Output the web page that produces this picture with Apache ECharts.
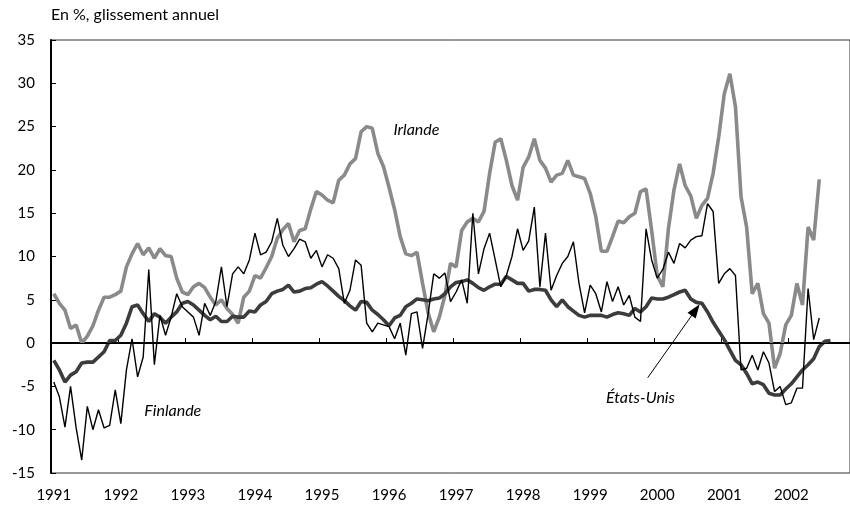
<!DOCTYPE html>
<html><head><meta charset="utf-8">
<script src="https://cdn.jsdelivr.net/npm/echarts@6/dist/echarts.min.js"></script>
<style>html,body{margin:0;padding:0;background:#fff}#c{width:850px;height:512px}</style>
</head><body><div id="c"></div>
<script>
// Monthly series, index 0 = January 1991
const yearLabels = ['1991','1992','1993','1994','1995','1996','1997','1998','1999','2000','2001','2002'];
const monthsShown = 143;           // axis runs from Jan 1991 past the right edge
const monthsPerYear = 12;

const irlande = [5.7,4.6,3.8,1.7,2.1,0.0,0.8,2.0,3.8,5.3,5.3,5.6,
6.0,8.8,10.3,11.5,10.2,11.0,9.8,10.9,10.1,10.0,7.5,5.9,
5.6,6.5,6.9,6.4,5.3,4.4,5.0,4.0,3.3,2.3,5.3,6.0,
7.8,7.5,8.7,10.0,12.1,13.1,13.8,11.7,13.0,13.2,15.5,17.5,
17.1,16.5,16.2,18.8,19.4,20.7,21.3,24.4,25.0,24.8,21.9,20.4,
18.0,15.4,12.3,10.3,10.1,10.5,6.9,3.5,1.3,3.0,5.5,9.2,
8.8,13.0,14.0,14.4,14.0,15.2,19.6,23.2,23.6,21.1,18.2,16.5,
20.3,21.5,23.6,21.1,20.2,18.6,19.4,19.6,21.1,19.4,19.2,19.0,
17.3,14.6,10.6,10.6,12.3,14.1,13.9,14.6,15.0,17.5,17.8,13.0,
7.8,6.5,13.2,17.7,20.7,18.2,17.0,14.4,15.9,16.7,19.6,23.8,
28.8,31.1,27.3,16.9,13.4,5.7,6.9,3.4,2.3,-2.9,-1.2,2.1,
3.2,6.9,4.4,13.4,11.9,18.9];

const finlande = [-4.5,-6.2,-9.7,-5.0,-9.8,-13.5,-7.3,-10.0,-7.7,-9.8,-9.5,-5.4,
-9.3,-3.1,0.5,-3.9,-1.6,8.5,-2.5,3.2,0.9,3.0,5.7,4.2,
3.6,3.0,0.9,4.6,3.2,4.8,8.8,4.2,8.0,8.8,8.0,9.6,
12.7,10.2,10.5,11.7,14.4,11.3,10.0,10.9,12.0,11.7,9.8,10.7,
8.8,10.2,9.8,8.6,4.6,6.1,9.6,9.0,2.3,1.3,2.3,2.1,
1.9,0.5,2.3,-1.4,3.4,3.6,-0.6,3.4,8.0,7.5,8.1,4.8,
5.9,7.3,4.6,15.0,8.0,10.9,12.7,9.6,6.5,7.8,10.0,13.2,
10.7,11.8,15.7,6.5,12.7,6.1,7.8,9.2,10.0,11.7,6.9,3.5,
6.7,5.7,3.6,7.1,4.8,6.5,4.4,5.5,3.0,2.5,13.2,9.6,
7.5,8.5,10.5,9.2,11.5,11.0,11.9,12.3,12.4,16.1,15.2,6.9,
8.0,8.6,7.8,-3.1,-2.9,-1.4,-3.1,-1.0,-2.3,-5.6,-5.0,-7.1,
-6.9,-5.2,-5.2,6.3,0.4,2.9];

const etatsUnis = [-2.0,-3.1,-4.5,-3.7,-3.3,-2.3,-2.2,-2.2,-1.6,-1.0,0.3,0.3,
0.9,2.3,4.2,4.4,3.4,2.5,3.4,3.0,2.3,3.0,3.6,4.6,
4.8,4.4,3.8,3.2,2.7,3.1,2.5,2.5,3.1,3.0,3.0,3.7,
3.6,4.4,4.8,5.7,6.0,6.2,6.7,5.9,6.0,6.3,6.4,6.8,
7.1,6.6,6.0,5.4,4.9,4.3,3.8,4.8,4.7,3.8,3.3,2.7,
2.0,2.9,3.2,4.2,4.6,5.1,5.0,4.9,5.1,5.2,5.7,6.5,
7.0,7.1,7.3,6.9,6.4,6.1,6.5,6.8,6.8,7.7,7.3,6.9,
6.9,6.0,6.2,6.2,6.1,5.0,4.2,5.0,4.2,3.7,3.2,3.0,
3.2,3.2,3.2,3.0,3.3,3.5,3.4,3.2,4.0,3.6,4.2,5.2,
5.1,5.1,5.3,5.6,5.9,6.1,5.1,4.7,4.6,3.6,2.4,1.4,
0.4,-0.8,-2.0,-2.5,-3.5,-4.7,-4.5,-4.8,-5.8,-6.0,-6.0,-5.3,
-4.7,-3.9,-3.1,-2.5,-1.8,-0.4,0.2,0.3];

const yMin = -15, yMax = 35, yStep = 5;
const unitTitle = 'En %, glissement annuel';
const seriesLabels = [
  {text: 'Irlande', at: [64.9, 24.6]},
  {text: 'Finlande', at: [21.3, -7.85]},
  {text: 'États-Unis', at: [105.0, -6.35]}
];
const arrowFrom = [106.3, -4.0];
const arrowTo = [115.6, 4.5];

// category list built from the year labels
const categories = [];
for (let i = 0; i < monthsShown; i++) {
  const y = yearLabels[0] * 1 + Math.floor(i / monthsPerYear);
  const m = (i % monthsPerYear) + 1;
  categories.push(y + '-' + (m < 10 ? '0' + m : m));
}
const FONT = 'Lato, "DejaVu Sans", sans-serif';

const chart = echarts.init(document.getElementById('c'), null, {renderer: 'canvas'});
chart.setOption({
  animation: false,
  backgroundColor: '#fff',
  textStyle: {fontFamily: FONT},
  grid: {left: 51, top: 40, width: 802, height: 433, show: true, borderColor: '#333', borderWidth: 1, backgroundColor: 'transparent'},
  title: {text: unitTitle, left: 51, top: 7, padding: 0, textStyle: {fontFamily: FONT, fontSize: 16, fontWeight: 'normal', color: '#000'}},
  xAxis: {
    type: 'category', data: categories, boundaryGap: true,
    axisLine: {show: true, lineStyle: {color: '#000', width: 2}},
    axisTick: {show: true, inside: true, length: 5, interval: monthsPerYear - 1, alignWithLabel: false, lineStyle: {color: '#000', width: 1}},
    splitLine: {show: false},
    axisLabel: {
      interval: monthsPerYear - 1, margin: 15, fontFamily: FONT, fontSize: 15, color: '#000',
      formatter: v => v.slice(5) === '01' ? v.slice(0, 4) : ''
    }
  },
  yAxis: {
    type: 'value', min: yMin, max: yMax, interval: yStep,
    axisLine: {show: true, lineStyle: {color: '#000', width: 2}},
    axisTick: {show: true, inside: true, length: 5, lineStyle: {color: '#000', width: 1}},
    splitLine: {show: false},
    axisLabel: {margin: 16, fontFamily: FONT, fontSize: 15, color: '#000'}
  },
  series: [
    {
      name: 'Irlande', type: 'line', data: irlande, showSymbol: false, symbol: 'none',
      lineStyle: {color: '#8a8a8a', width: 3.6}, z: 2,
      markLine: {silent: true, symbol: 'none', label: {show: false},
        lineStyle: {color: '#000', width: 1, type: 'solid'}, data: [{yAxis: 0}]}
    },
    {
      name: 'États-Unis', type: 'line', data: etatsUnis, showSymbol: false, symbol: 'none',
      lineStyle: {color: '#3c3c3c', width: 3.6}, z: 3
    },
    {
      name: 'Finlande', type: 'line', data: finlande, showSymbol: false, symbol: 'none',
      lineStyle: {color: '#000', width: 1.4}, z: 4
    }
  ]
});

// Annotations placed in data coordinates through the chart's own scales
const px = c => {
  const i = Math.floor(c[0]), f = c[0] - i;
  const p0 = chart.convertToPixel({gridIndex: 0}, [i, c[1]]);
  const p1 = chart.convertToPixel({gridIndex: 0}, [i + 1, c[1]]);
  return [p0[0] + (p1[0] - p0[0]) * f, p0[1]];
};
const graphics = seriesLabels.map(l => {
  const p = px(l.at);
  return {type: 'text', x: p[0], y: p[1], z: 10,
    style: {text: l.text, fontFamily: FONT, fontSize: 16, fontStyle: 'italic', fill: '#000', align: 'center', verticalAlign: 'middle'}};
});
const a0 = px(arrowFrom), a1 = px(arrowTo);
const dx = a1[0] - a0[0], dy = a1[1] - a0[1], len = Math.hypot(dx, dy);
const ux = dx / len, uy = dy / len, headLen = 14, headHalf = 5;
const base = [a1[0] - ux * headLen, a1[1] - uy * headLen];
graphics.push({type: 'line', z: 10, shape: {x1: a0[0], y1: a0[1], x2: base[0] + ux * 2, y2: base[1] + uy * 2},
  style: {stroke: '#000', lineWidth: 1}});
graphics.push({type: 'polygon', z: 10, shape: {points: [
  a1, [base[0] - uy * headHalf, base[1] + ux * headHalf], [base[0] + uy * headHalf, base[1] - ux * headHalf]]},
  style: {fill: '#000'}});
chart.setOption({graphic: graphics});
</script>
</body></html>
